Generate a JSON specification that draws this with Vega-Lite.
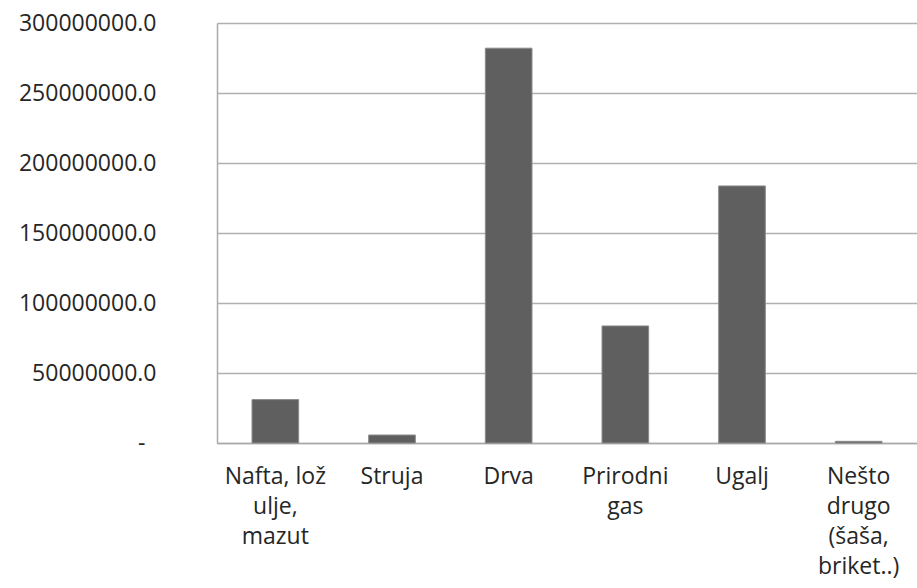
{
  "$schema": "https://vega.github.io/schema/vega-lite/v6.json",
  "autosize": "none",
  "padding": {"left": 217, "top": 23, "right": 0, "bottom": 145},
  "width": 700,
  "height": 420,
  "background": "#ffffff",
  "config": {
    "view": {"stroke": null},
    "font": "Open Sans"
  },
  "data": {
    "values": [
      {"izvor": "Nafta, lož ulje, mazut", "vrijednost": 31000000},
      {"izvor": "Struja", "vrijednost": 5700000},
      {"izvor": "Drva", "vrijednost": 282000000},
      {"izvor": "Prirodni gas", "vrijednost": 83600000},
      {"izvor": "Ugalj", "vrijednost": 183600000},
      {"izvor": "Nešto drugo (šaša, briket..)", "vrijednost": 1200000}
    ]
  },
  "mark": {"type": "bar", "color": "#5f5f5f", "stroke": "#8c8c8c", "strokeWidth": 1},
  "encoding": {
    "x": {
      "field": "izvor",
      "type": "nominal",
      "sort": null,
      "scale": {"paddingInner": 0.6, "paddingOuter": 0.3},
      "axis": {
        "title": null,
        "labelAngle": 0,
        "labelFont": "Open Sans",
        "labelFontSize": 23,
        "labelColor": "#262626",
        "labelLineHeight": 30,
        "labelPadding": 22,
        "labelBaseline": "top",
        "labelLimit": 0,
        "ticks": false,
        "domainColor": "#aaaaaa",
        "domainWidth": 1.5,
        "grid": false,
        "labelExpr": "datum.value == 'Nafta, lož ulje, mazut' ? ['Nafta, lož', 'ulje,', 'mazut'] : datum.value == 'Prirodni gas' ? ['Prirodni', 'gas'] : datum.value == 'Nešto drugo (šaša, briket..)' ? ['Nešto', 'drugo', '(šaša,', 'briket..)'] : datum.value"
      }
    },
    "y": {
      "field": "vrijednost",
      "type": "quantitative",
      "scale": {"domain": [0, 300000000], "nice": false},
      "axis": {
        "title": null,
        "values": [0, 50000000, 100000000, 150000000, 200000000, 250000000, 300000000],
        "labelFont": "Open Sans",
        "labelFontSize": 23,
        "labelColor": "#262626",
        "labelPadding": {"condition": {"test": "datum.value == 0", "value": 72}, "value": 61},
        "ticks": false,
        "domainColor": "#aaaaaa",
        "domainWidth": 1.5,
        "gridColor": "#b0b0b0",
        "gridWidth": 1.5,
        "labelExpr": "datum.value == 0 ? '-' : format(datum.value, '.1f')"
      }
    }
  }
}
